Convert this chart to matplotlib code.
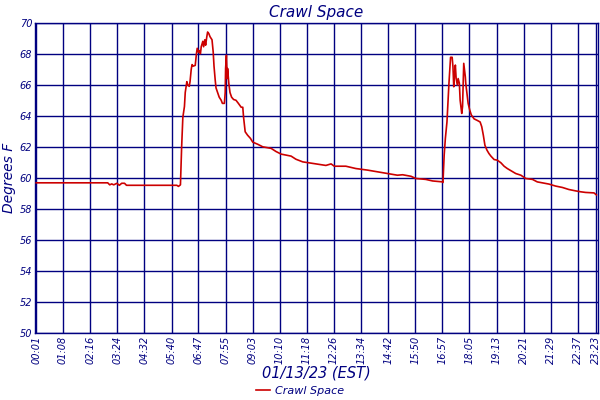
import numpy as np
import matplotlib
matplotlib.use("Agg")
import matplotlib.pyplot as plt

# minutes after midnight on 01/13/23 and temperature in F
minutes = [1, 180, 185, 190, 195, 203, 209, 215, 222, 227, 353, 357, 362,
           365, 368, 372, 374, 378, 380, 384, 386, 389, 391, 394, 399, 402,
           404, 407, 409, 412, 414, 418, 420, 423, 425, 428, 430, 433, 436,
           441, 444, 446, 449, 451, 455, 459, 464, 467, 472, 474, 475, 477,
           479, 480, 483, 486, 490, 495, 501, 507, 514, 518, 520, 524, 530,
           537, 543, 555, 568, 589, 601, 614, 639, 651, 668, 684, 701, 726,
           739, 747, 776, 801, 830, 855, 880, 905, 918, 939, 951, 976, 993,
           1018, 1019, 1020, 1022, 1025, 1029, 1031, 1034, 1036, 1038, 1042,
           1044, 1046, 1048, 1050, 1052, 1055, 1057, 1060, 1062, 1065, 1066,
           1068, 1070, 1071, 1073, 1075, 1076, 1079, 1082, 1086, 1090, 1097,
           1105, 1112, 1116, 1120, 1124, 1129, 1134, 1139, 1147, 1155, 1164,
           1172, 1180, 1190, 1201, 1214, 1226, 1243, 1255, 1268, 1284, 1301,
           1318, 1334, 1351, 1364, 1376, 1397, 1403]
temps = [59.68, 59.68, 59.55, 59.61, 59.55, 59.65, 59.52, 59.65, 59.65, 59.52,
         59.52, 59.45, 59.55,
         62.0, 63.9, 64.6, 65.5, 66.2, 66.0, 65.9, 66.2, 67.0, 67.3, 67.2,
         67.25, 68.0, 68.35, 68.1, 68.2, 68.0, 68.45, 68.8, 68.45, 68.9, 68.55,
         69.1, 69.4, 69.3, 69.1, 68.9, 68.1, 67.2, 66.3, 65.8, 65.5, 65.2,
         65.0, 64.8, 64.8, 65.5, 67.05, 67.9, 66.4, 67.05, 66.1, 65.5, 65.2,
         65.05, 65.0, 64.8, 64.55, 64.55, 63.9, 62.97, 62.75, 62.55, 62.3,
         62.17, 62.0, 61.9, 61.7, 61.53, 61.4, 61.2, 61.03, 60.97, 60.9, 60.8,
         60.9, 60.75, 60.75, 60.6, 60.5, 60.39, 60.28, 60.17, 60.2, 60.1,
         59.96, 59.9, 59.8, 59.74, 59.7,
         60.28, 61.46, 62.54, 63.6, 64.6, 66.1, 66.95, 67.77, 67.77, 67.16,
         65.87, 66.7, 67.27, 66.4, 65.98, 66.4, 66.1, 65.0, 64.37, 64.15,
         64.6, 66.5, 67.38, 66.95, 66.5, 66.1, 65.45, 64.8, 64.37, 64.05,
         63.8, 63.7, 63.6, 63.3, 62.75, 62.1, 61.79, 61.57, 61.4, 61.18,
         61.14, 60.97, 60.75, 60.6, 60.45, 60.28, 60.17, 59.96, 59.9, 59.74,
         59.68, 59.6, 59.47, 59.38, 59.25, 59.16, 59.1, 59.06, 59.03, 58.9]

tick_minutes = [1, 68, 136, 204, 272, 340, 407, 475, 543, 610, 678, 746,
                814, 882, 950, 1017, 1085, 1153, 1221, 1289, 1357, 1403]
tick_labels = ["00:01", "01:08", "02:16", "03:24", "04:32", "05:40", "06:47",
               "07:55", "09:03", "10:10", "11:18", "12:26", "13:34", "14:42",
               "15:50", "16:57", "18:05", "19:13", "20:21", "21:29", "22:37",
               "23:23"]
y_ticks = list(range(50, 71, 2))

navy = "#000080"
red = "#CC0000"

fig = plt.figure(figsize=(6, 4), dpi=100)
ax = fig.add_axes([35 / 600, 1 - 333 / 400, 563 / 600, (333 - 22.7) / 400])

ax.plot(minutes, temps, color=red, lw=1.2, label="Crawl Space", zorder=3)

ax.set_xlim(-2, 1407)
ax.set_ylim(50, 70)
ax.set_xticks(tick_minutes)
ax.set_xticklabels(tick_labels, rotation=90, fontsize=7, style="italic",
                   color=navy)
ax.set_yticks(y_ticks)
ax.set_yticklabels([str(v) for v in y_ticks], fontsize=7, style="italic",
                   color=navy)
ax.tick_params(length=0, pad=2)
ax.grid(True, color=navy, lw=1.0)
for s in ax.spines.values():
    s.set_color(navy)
    s.set_linewidth(1.0)

ax.set_title("Crawl Space", fontsize=11, style="italic", color=navy, pad=4)
ax.set_ylabel("Degrees F", fontsize=10, style="italic", color=navy, labelpad=3)
ax.set_xlabel("01/13/23 (EST)", fontsize=10.5, style="italic", color=navy,
              labelpad=1)

leg = fig.legend(loc="lower center", bbox_to_anchor=(0.5, -0.015), frameon=False,
                 fontsize=8, handlelength=1.3, handletextpad=0.4)
for t in leg.get_texts():
    t.set_color(navy)
    t.set_fontstyle("italic")

fig.savefig("out.png", dpi=100)
